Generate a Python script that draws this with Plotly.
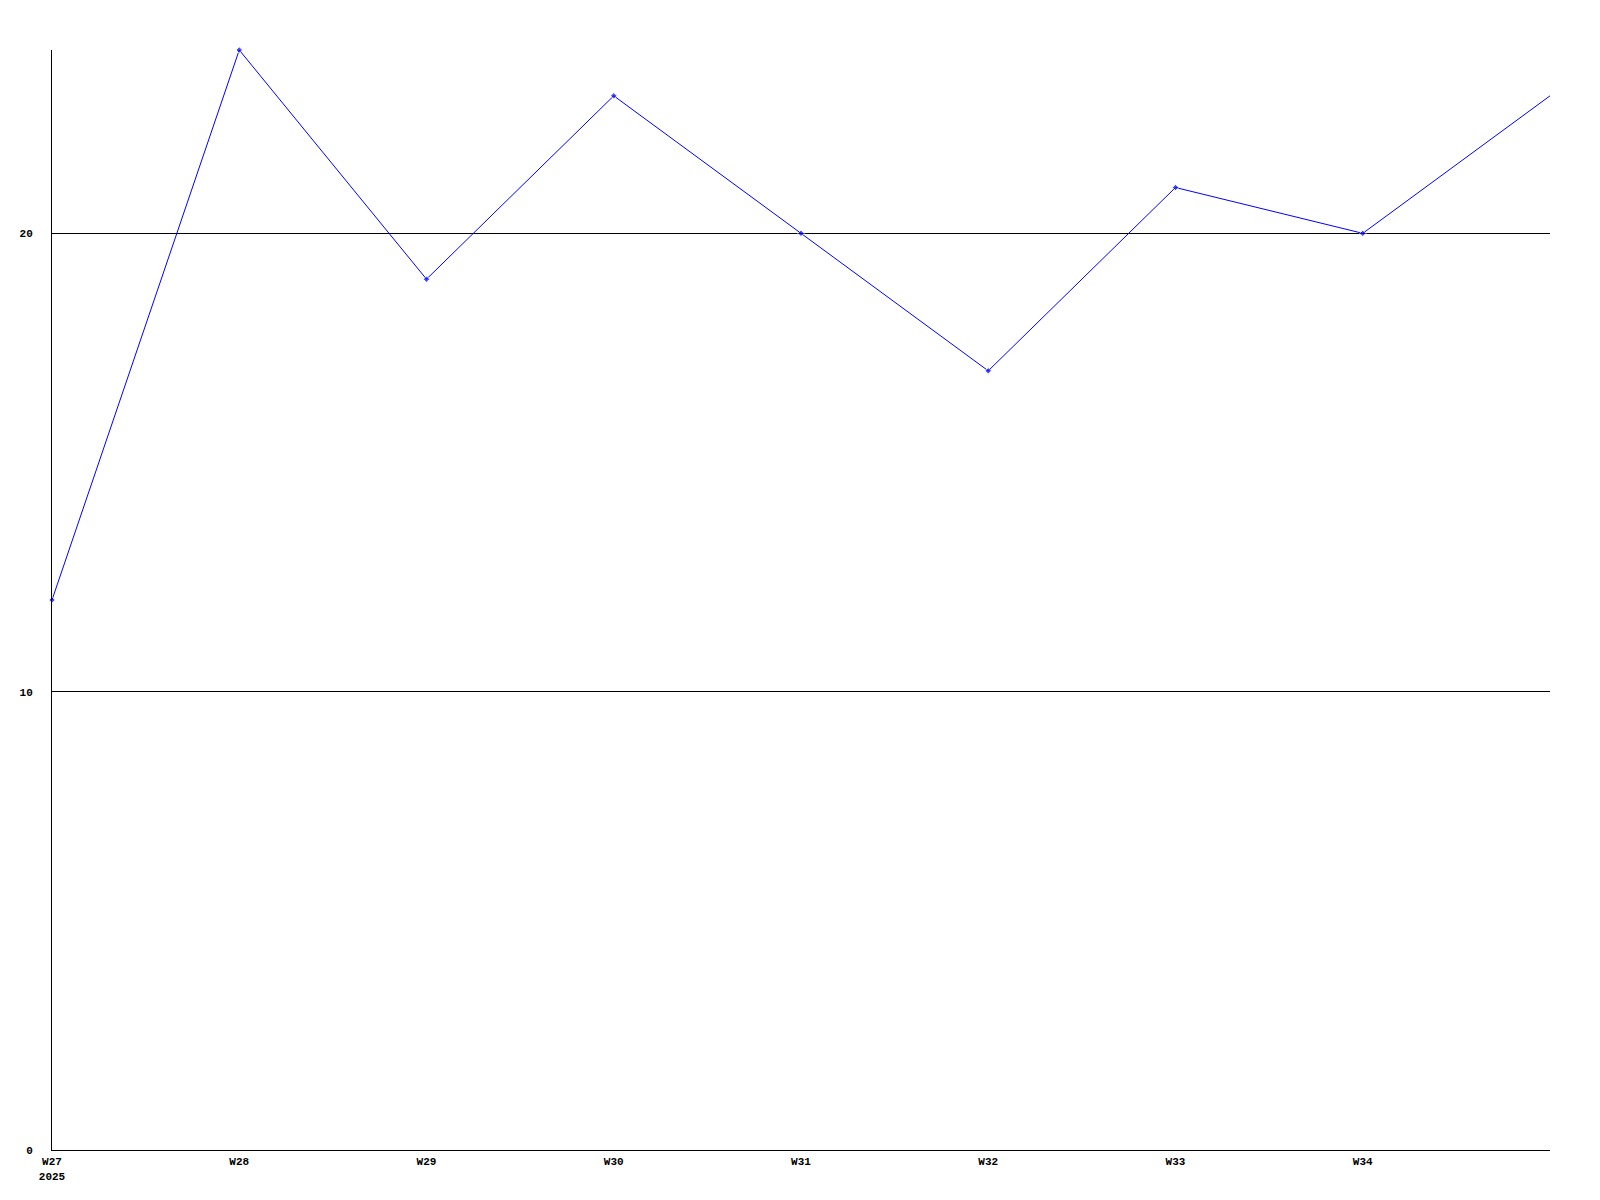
import plotly.graph_objects as go

weeks = ["W27", "W28", "W29", "W30", "W31", "W32", "W33", "W34", "W35"]
values = [12, 24, 19, 23, 20, 17, 21, 20, 23]
tick_labels = ["W27<br>2025", "W28", "W29", "W30", "W31", "W32", "W33", "W34", ""]
y_ticks = [0, 10, 20]

font = dict(family="Liberation Mono, DejaVu Sans Mono, monospace", size=11, color="black", weight="bold")

marker_sizes = [5] * (len(weeks) - 1) + [0]

fig = go.Figure()
fig.add_trace(go.Scatter(
    x=weeks, y=values, mode="lines+markers",
    line=dict(color="#0000ff", width=1),
    marker=dict(symbol="diamond", size=marker_sizes, color="#0000ff"),
    cliponaxis=False,
    showlegend=False, hoverinfo="skip",
))

fig.update_layout(
    width=1600, height=1200,
    margin=dict(l=42, r=58, t=42, b=58),
    paper_bgcolor="white", plot_bgcolor="white",
    font=font,
)
fig.update_xaxes(
    type="category", range=[0, len(weeks) - 1],
    tickvals=weeks, ticktext=tick_labels,
    showgrid=False, zeroline=False,
    showline=True, linecolor="black", linewidth=1,
    ticks="", ticklabelstandoff=1, tickfont=font,
)
fig.update_yaxes(
    range=[0, 24], tickvals=y_ticks,
    showgrid=True, gridcolor="black", gridwidth=1,
    zeroline=False,
    showline=True, linecolor="black", linewidth=1,
    ticks="", ticklabelstandoff=16, tickfont=font,
)

fig.write_html("out.html")
